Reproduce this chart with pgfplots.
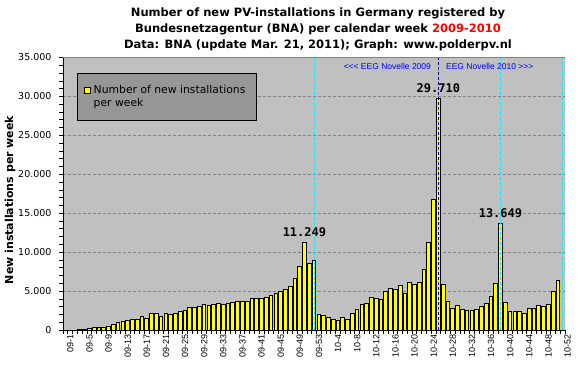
\documentclass[border=0pt]{standalone}
\usepackage{fontspec}
\setmainfont{DejaVu Sans}
\newfontfamily\arialf{Liberation Sans}
\newfontfamily\monof{DejaVu Sans Mono}
\usepackage{pgfplots}
\pgfplotsset{compat=1.18}
\definecolor{plotbg}{RGB}{192,192,192}
\definecolor{legbg}{RGB}{150,150,150}
\definecolor{gridc}{RGB}{128,128,128}
\definecolor{eegblue}{RGB}{0,0,255}
\definecolor{navyline}{RGB}{0,0,140}
\definecolor{cyanline}{RGB}{0,240,255}
\definecolor{baryellow}{RGB}{255,255,0}
\definecolor{titlered}{RGB}{255,0,0}

\pgfplotstableread{
k v
1 0
2 0
3 0
4 120
5 120
6 210
7 340
8 340
9 340
10 470
11 730
12 980
13 1110
14 1240
15 1370
16 1370
17 1750
18 1490
19 2130
20 2130
21 1750
22 2130
23 2000
24 2130
25 2390
26 2520
27 2900
28 2900
29 3030
30 3290
31 3160
32 3290
33 3420
34 3290
35 3420
36 3550
37 3680
38 3680
39 3680
40 4060
41 4060
42 4060
43 4190
44 4440
45 4700
46 4960
47 5210
48 5600
49 6620
50 8160
51 11249
52 8550
53 8930
54 2010
55 1880
56 1620
57 1370
58 1240
59 1620
60 1370
61 2140
62 2650
63 3290
64 3420
65 4190
66 4060
67 3930
68 4960
69 5340
70 5210
71 5730
72 4700
73 6110
74 5850
75 6110
76 7780
77 11240
78 16750
79 29710
80 5850
81 3680
82 2780
83 3160
84 2650
85 2520
86 2520
87 2650
88 3030
89 3420
90 4320
91 5980
92 13649
93 3550
94 2390
95 2390
96 2390
97 2140
98 2780
99 2780
100 3160
101 3030
102 3290
103 4960
104 6370
105 0
}\weekdata

\begin{document}
\begin{tikzpicture}
\useasboundingbox (0pt,0pt) rectangle (581pt,371pt);
\begin{axis}[
  at={(63pt,41pt)}, anchor=south west,
  width=502pt, height=272.5pt, scale only axis,
  xmin=0.5, xmax=105.5, ymin=0, ymax=35000,
  axis x line*=bottom, axis y line*=left,
  axis line style={black, line width=0.8pt, -},
  axis background/.style={fill=plotbg},
  tick align=outside,
  major tick length=4pt, minor tick length=4pt,
  every tick/.style={black, line width=0.6pt},
  scaled y ticks=false,
  ytick={0,5000,...,35000},
  minor ytick={1000,2000,3000,4000,6000,7000,8000,9000,11000,12000,13000,14000,16000,17000,18000,19000,21000,22000,23000,24000,26000,27000,28000,29000,31000,32000,33000,34000},
  ymajorgrids,
  grid style={gridc, dash pattern=on 3pt off 2pt, line width=0.6pt},
  xtick={1,5,...,105},
  xticklabels={09-1,09-5,09-9,09-13,09-17,09-21,09-25,09-29,09-33,09-37,09-41,09-45,09-49,09-53,10-4,10-8,10-12,10-16,10-20,10-24,10-28,10-32,10-36,10-40,10-44,10-48,10-52},
  minor xtick={0.5,1.5,...,105.5},
  major x tick style={draw=none},
  x tick label style={rotate=90, anchor=east, font=\arialf\fontsize{9}{10}\selectfont, inner sep=0pt, yshift=-5pt},
  y tick label style={font=\fontsize{9.5}{11}\selectfont, xshift=-4pt},
  /pgf/number format/.cd, 1000 sep={.}, assume math mode=true,
]
\addplot[ybar, bar width=3.7pt, fill=baryellow, draw=black, line width=0.8pt] table[x=k, y=v] {\weekdata};
\addplot[navyline, line width=1pt, dash pattern=on 3pt off 2pt] coordinates {(79,0) (79,35000)};
\addplot[cyanline, line width=1pt, dash pattern=on 3pt off 2pt] coordinates {(53,0) (53,35000)};
\addplot[cyanline, line width=1pt, dash pattern=on 3pt off 2pt] coordinates {(92,0) (92,35000)};
\addplot[cyanline, line width=1pt, dash pattern=on 3pt off 2pt] coordinates {(105,0) (105,35000)};
\draw[gridc, line width=1pt] (rel axis cs:0,1) -- (rel axis cs:1,1) -- (rel axis cs:1,0);
\node[font=\monof\bfseries\fontsize{12}{14}\selectfont] at (axis cs:51,12625) {11.249};
\node[font=\monof\bfseries\fontsize{12}{14}\selectfont] at (axis cs:79,31120) {29.710};
\node[font=\monof\bfseries\fontsize{12}{14}\selectfont] at (axis cs:92,15065) {13.649};
\node[anchor=east, text=eegblue, font=\arialf\fontsize{8.5}{10}\selectfont, inner sep=0pt] at (axis cs:77.5,33870) {<<< EEG Novelle 2009};
\node[anchor=west, text=eegblue, font=\arialf\fontsize{8.5}{10}\selectfont, inner sep=0pt] at (axis cs:80.6,33870) {EEG Novelle 2010 >>>};
\end{axis}
% legend
\draw[black, line width=0.8pt, fill=legbg] (77.3pt,251pt) rectangle (256.7pt,297.7pt);
\draw[black, line width=0.8pt, fill=baryellow] (84pt,277.7pt) rectangle (90pt,283.7pt);
\node[anchor=base west, inner sep=0pt, font=\fontsize{10.8}{12}\selectfont] at (93.5pt,277pt) {Number of new installations};
\node[anchor=base west, inner sep=0pt, font=\fontsize{10.8}{12}\selectfont] at (93.5pt,264.3pt) {per week};
% y label
\node[rotate=90, font=\bfseries\fontsize{11}{13}\selectfont] at (10pt,171pt) {New installations per week};
% title
\node[align=center, font=\bfseries\fontsize{11.5}{16}\selectfont] at (318pt,342pt) {Number of new PV-installations in Germany registered by\\Bundesnetzagentur (BNA) per calendar week \textcolor{titlered}{2009-2010}\\Data: BNA (update Mar. 21, 2011); Graph: www.polderpv.nl};
\end{tikzpicture}
\end{document}
